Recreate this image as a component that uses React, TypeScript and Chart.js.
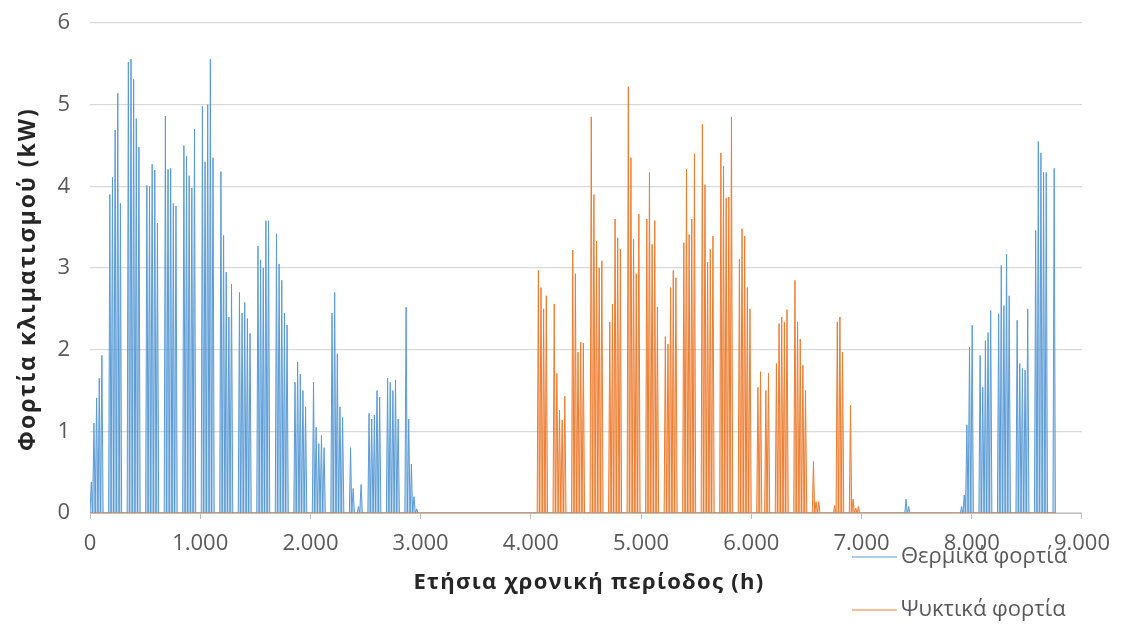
import { useEffect, useRef } from "react";
import { Chart, registerables } from "chart.js";

Chart.register(...registerables);

// Daily peak loads (kW) for the working days (Mon–Fri) of each week.
// Week index 0 starts at hour 0 of the year.
const heatingWinterFirstWeek = 0;
const heatingWinter: number[][] = [
  [0.38, 1.1, 1.41, 1.65, 1.93],
  [3.9, 4.11, 4.69, 5.14, 3.79],
  [5.52, 5.56, 5.31, 4.83, 4.48],
  [4.01, 4.0, 4.27, 4.2, 3.55],
  [4.86, 4.21, 4.22, 3.79, 3.76],
  [4.5, 4.37, 4.13, 3.98, 4.7],
  [4.98, 4.3, 5.0, 5.56, 4.35],
  [4.18, 3.4, 2.95, 2.4, 2.8],
  [2.7, 2.45, 2.58, 2.38, 2.2],
  [3.27, 3.1, 3.0, 3.58, 3.58],
  [3.42, 3.05, 2.85, 2.45, 2.3],
  [1.6, 1.85, 1.7, 1.5, 1.3],
  [1.6, 1.05, 0.85, 0.95, 0.8],
  [2.45, 2.7, 1.95, 1.3, 1.17],
  [0.8, 0.3, 0, 0.08, 0.35],
  [1.22, 1.15, 1.2, 1.5, 1.42],
  [1.65, 1.6, 1.5, 1.63, 1.15],
  [2.52, 1.15, 0.6, 0.2, 0.05],
];

const heatingAutumnFirstWeek = 44;
const heatingAutumn: number[][] = [
  [0.17, 0.08, 0, 0, 0],
  [0, 0, 0, 0, 0],
  [0, 0, 0, 0, 0],
  [0.08, 0.22, 1.08, 2.03, 2.3],
  [1.93, 1.54, 2.11, 2.21, 2.48],
  [2.44, 3.03, 2.54, 3.17, 2.66],
  [2.36, 1.83, 1.77, 1.75, 2.5],
  [3.46, 4.55, 4.41, 4.17, 4.17],
  [4.22],
];

const coolingFirstWeek = 24;
const cooling: number[][] = [
  [0, 2.97, 2.76, 2.5, 2.66],
  [2.56, 1.71, 1.26, 1.14, 1.43],
  [3.22, 2.93, 1.97, 2.09, 2.08],
  [4.85, 3.9, 3.33, 3.0, 3.09],
  [2.34, 2.56, 3.6, 3.37, 3.23],
  [5.22, 4.35, 3.35, 2.93, 3.66],
  [3.6, 4.17, 3.29, 3.58, 2.52],
  [2.16, 2.07, 2.76, 2.97, 2.88],
  [3.31, 4.21, 3.41, 3.6, 4.4],
  [4.76, 4.02, 3.07, 3.23, 3.39],
  [4.41, 4.25, 3.86, 3.87, 4.85],
  [3.11, 3.48, 3.39, 2.76, 2.5],
  [1.54, 1.73, 0, 1.5, 1.71],
  [1.83, 2.32, 2.4, 2.34, 2.49],
  [2.85, 2.34, 2.13, 1.81, 1.5],
  [0.63, 0.14, 0.14, 0, 0],
  [0, 0.09, 2.34, 2.4, 1.97],
  [1.32, 0.17, 0.06, 0.08, 0],
];

const seriesLabels = ["Θερμικά φορτία", "Ψυκτικά φορτία"];
const seriesColors = ["#5B9BD5", "#ED7D31"];
const seriesFills = ["rgba(91,155,213,0.38)", "rgba(237,125,49,0.38)"];

const xTitle = "Ετήσια χρονική περίοδος (h)";
const yTitle = "Φορτία κλιματισμού (kW)";

const xTicks = [0, 1000, 2000, 3000, 4000, 5000, 6000, 7000, 8000, 9000];
const yTicks = [0, 1, 2, 3, 4, 5, 6];

const HOURS_IN_YEAR = 8760;

type Block = { firstWeek: number; weeks: number[][] };
type Pt = { x: number; y: number };

// Expand the weekly working-day peaks into an hourly profile:
// each working day rises from zero to its peak at midday and falls back.
function hourlyProfile(blocks: Block[]): Pt[] {
  const pts: Pt[] = [{ x: 0, y: 0 }];
  const byDay = new Map<number, number>();
  blocks.forEach((b) =>
    b.weeks.forEach((days, w) =>
      days.forEach((v, d) => byDay.set((b.firstWeek + w) * 7 + d, v))
    )
  );
  const dayList = [...byDay.keys()].sort((a, b) => a - b);
  for (const day of dayList) {
    const v = byDay.get(day)!;
    if (v <= 0) continue;
    const h0 = day * 24;
    pts.push({ x: h0 + 1, y: 0 }, { x: h0 + 12, y: v }, { x: h0 + 23, y: 0 });
  }
  pts.push({ x: HOURS_IN_YEAR, y: 0 });
  return pts;
}

const heatingData = hourlyProfile([
  { firstWeek: heatingWinterFirstWeek, weeks: heatingWinter },
  { firstWeek: heatingAutumnFirstWeek, weeks: heatingAutumn },
]);
const coolingData = hourlyProfile([{ firstWeek: coolingFirstWeek, weeks: cooling }]);

const FONT = '"Open Sans", "DejaVu Sans", sans-serif';
const TEXT_COLOR = "#595959";
const TITLE_COLOR = "#262626";

// Axis titles (with a little tracking) and a two-row legend at the lower right.
const annotations = {
  id: "annotations",
  afterDraw(chart: Chart) {
    const { ctx, chartArea } = chart;
    ctx.save();

    ctx.fillStyle = TITLE_COLOR;
    ctx.font = `bold 22px ${FONT}`;
    (ctx as any).letterSpacing = "1.3px";
    ctx.textAlign = "center";
    ctx.textBaseline = "middle";
    ctx.fillText(xTitle, (chartArea.left + chartArea.right) / 2 + 3, chartArea.bottom + 70);

    ctx.save();
    ctx.font = `bold 23px ${FONT}`;
    (ctx as any).letterSpacing = "2px";
    ctx.translate(28, (chartArea.top + chartArea.bottom) / 2 + 11);
    ctx.rotate(-Math.PI / 2);
    ctx.fillText(yTitle, 0, 0);
    ctx.restore();

    (ctx as any).letterSpacing = "0px";
    const x0 = chartArea.right - 230;
    seriesLabels.forEach((label, i) => {
      const y = chartArea.bottom + 44 + i * 53;
      ctx.strokeStyle = seriesColors[i];
      ctx.lineWidth = 1.2;
      ctx.beginPath();
      ctx.moveTo(x0, y);
      ctx.lineTo(x0 + 45, y);
      ctx.stroke();
      ctx.fillStyle = TEXT_COLOR;
      ctx.font = `22px ${FONT}`;
      ctx.textBaseline = "middle";
      ctx.textAlign = "left";
      ctx.fillText(label, x0 + 49, y);
    });
    ctx.restore();
  },
};

function formatThousands(v: number): string {
  if (v === 0) return "0";
  const s = String(Math.round(v));
  return s.replace(/\B(?=(\d{3})+(?!\d))/g, ".");
}

export default function App() {
  const canvasRef = useRef<HTMLCanvasElement>(null);

  useEffect(() => {
    const chart = new Chart(canvasRef.current!, {
      type: "line",
      data: {
        datasets: [
          {
            label: seriesLabels[0],
            data: heatingData,
            borderColor: seriesColors[0],
            backgroundColor: seriesFills[0],
            borderWidth: 1,
            pointRadius: 0,
            tension: 0,
            fill: "origin",
            order: 1,
          },
          {
            label: seriesLabels[1],
            data: coolingData,
            borderColor: seriesColors[1],
            backgroundColor: seriesFills[1],
            borderWidth: 1,
            pointRadius: 0,
            tension: 0,
            fill: "origin",
            order: 0,
          },
        ],
      },
      options: {
        animation: false,
        responsive: true,
        maintainAspectRatio: false,
        parsing: false,
        layout: { padding: { top: 23, right: 37, left: 0, bottom: 0 } },
        plugins: {
          legend: { display: false },
          tooltip: { enabled: false },
        },
        scales: {
          x: {
            type: "linear",
            min: xTicks[0],
            max: xTicks[xTicks.length - 1],
            afterBuildTicks: (scale: any) => {
              scale.ticks = xTicks.map((v) => ({ value: v }));
            },
            afterFit: (scale: any) => {
              scale.height = 130;
            },
            ticks: {
              autoSkip: false,
              maxRotation: 0,
              padding: 12,
              color: TEXT_COLOR,
              font: { family: FONT, size: 22 },
              callback: (v: any) => formatThousands(Number(v)),
            },
            grid: {
              drawOnChartArea: false,
              drawTicks: true,
              tickLength: 6,
              color: "#bfbfbf",
            },
            border: { display: true, color: "#bfbfbf" },
          },
          y: {
            type: "linear",
            min: yTicks[0],
            max: yTicks[yTicks.length - 1],
            afterBuildTicks: (scale: any) => {
              scale.ticks = yTicks.map((v) => ({ value: v }));
            },
            afterFit: (scale: any) => {
              scale.width = 90;
              scale.paddingTop = 0;
              scale.paddingBottom = 0;
            },
            ticks: {
              padding: 20,
              color: TEXT_COLOR,
              font: { family: FONT, size: 22 },
            },
            grid: {
              drawTicks: false,
              color: "#d9d9d9",
              lineWidth: 1.2,
            },
            border: { display: false },
          },
        },
      },
      plugins: [annotations],
    } as any);
    return () => chart.destroy();
  }, []);

  return (
    <div
      style={{
        position: "absolute",
        left: 0,
        top: 0,
        width: 1122,
        height: 643,
        background: "#ffffff",
      }}
    >
      <canvas ref={canvasRef} />
    </div>
  );
}
